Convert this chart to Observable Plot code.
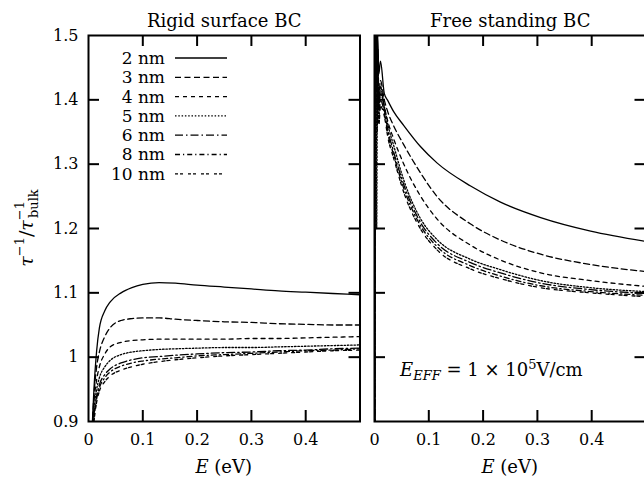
<!DOCTYPE html>
<html>
<head>
<meta charset="utf-8">
<script src="https://cdn.jsdelivr.net/npm/d3@7"></script>
<script src="https://cdn.jsdelivr.net/npm/@observablehq/plot@0.6"></script>
<style>
  html, body { margin: 0; padding: 0; background: #fff; }
  #wrap { position: relative; width: 644px; height: 483px; overflow: hidden; background: #fff; }
  #wrap svg { position: absolute; top: 0; }
</style>
</head>
<body>
<div id="wrap"></div>
<script>
// ---------- data ----------
const panelTitles = ["Rigid surface BC", "Free standing BC"];
const sizes = ["2 nm", "3 nm", "4 nm", "5 nm", "6 nm", "8 nm", "10 nm"];
const dashes = ["none", "6,3.5", "4,4", "1.5,1.8", "8,3,1.5,3", "5,3,1.2,3", "3,2,3,5"];
const xTickLabels = [0, 0.1, 0.2, 0.3, 0.4];
const xInnerTicks = [0.1, 0.2, 0.3, 0.4];
const yTicks = [0.9, 1, 1.1, 1.2, 1.3, 1.4, 1.5];
const yInnerTicks = [1, 1.1, 1.2, 1.3, 1.4];

// Rigid surface BC (left panel)
const rigidE = [0.005, 0.01, 0.015, 0.02, 0.03, 0.04, 0.06, 0.08, 0.1, 0.13, 0.16, 0.2, 0.25, 0.3, 0.35, 0.4, 0.45, 0.5];
const rigid2  = [0.86, 0.95, 1.01, 1.045, 1.072, 1.086, 1.1, 1.108, 1.113, 1.116, 1.115, 1.112, 1.109, 1.106, 1.103, 1.101, 1.099, 1.097];
const rigid3  = [0.86, 0.94, 0.985, 1.008, 1.032, 1.046, 1.057, 1.06, 1.061, 1.061, 1.059, 1.057, 1.055, 1.054, 1.052, 1.051, 1.05, 1.05];
const rigid4  = [0.86, 0.93, 0.965, 0.985, 1.005, 1.016, 1.023, 1.026, 1.027, 1.028, 1.028, 1.028, 1.028, 1.029, 1.029, 1.03, 1.031, 1.032];
const rigid5  = [0.86, 0.92, 0.95, 0.968, 0.985, 0.995, 1.004, 1.008, 1.01, 1.012, 1.013, 1.014, 1.015, 1.015, 1.016, 1.017, 1.018, 1.019];
const rigid6  = [0.86, 0.91, 0.94, 0.957, 0.973, 0.982, 0.991, 0.996, 0.999, 1.001, 1.003, 1.005, 1.007, 1.008, 1.01, 1.011, 1.013, 1.014];
const rigid8  = [0.86, 0.905, 0.935, 0.952, 0.968, 0.977, 0.986, 0.991, 0.994, 0.997, 0.999, 1.002, 1.004, 1.006, 1.008, 1.01, 1.011, 1.013];
const rigid10 = [0.86, 0.9, 0.93, 0.947, 0.962, 0.971, 0.98, 0.985, 0.989, 0.993, 0.996, 0.999, 1.002, 1.004, 1.006, 1.008, 1.01, 1.011];

// Free standing BC (right panel): noisy start near E = 0, then smooth decay
const freeE = [0.0005, 0.0015, 0.003, 0.004, 0.005, 0.006, 0.008, 0.011, 0.018, 0.025, 0.035, 0.054, 0.085, 0.115, 0.177, 0.232, 0.306, 0.398, 0.5];
const free2  = [0.85, 1.6, 1.46, 1.55, 1.42, 1.5, 1.44, 1.46, 1.41, 1.398, 1.382, 1.36, 1.327, 1.302, 1.266, 1.241, 1.217, 1.196, 1.18];
const free3  = [0.85, 1.58, 1.44, 1.52, 1.4, 1.48, 1.41, 1.43, 1.4, 1.38, 1.36, 1.33, 1.286, 1.25, 1.207, 1.182, 1.16, 1.144, 1.133];
const free4  = [0.85, 1.62, 1.48, 1.53, 1.38, 1.46, 1.4, 1.42, 1.39, 1.365, 1.34, 1.3, 1.25, 1.215, 1.174, 1.151, 1.131, 1.119, 1.11];
const free5  = [0.85, 1.57, 1.45, 1.2, 1.37, 1.47, 1.39, 1.41, 1.39, 1.36, 1.33, 1.275, 1.215, 1.183, 1.152, 1.136, 1.119, 1.108, 1.102];
const free6  = [0.85, 1.61, 1.43, 1.5, 1.39, 1.44, 1.38, 1.42, 1.385, 1.352, 1.32, 1.268, 1.209, 1.177, 1.147, 1.131, 1.115, 1.105, 1.099];
const free8  = [0.85, 1.59, 1.47, 1.49, 1.36, 1.45, 1.37, 1.4, 1.38, 1.346, 1.315, 1.262, 1.204, 1.172, 1.142, 1.126, 1.111, 1.102, 1.096];
const free10 = [0.85, 1.6, 1.42, 1.51, 1.35, 1.43, 1.36, 1.39, 1.375, 1.34, 1.31, 1.256, 1.199, 1.167, 1.137, 1.122, 1.108, 1.1, 1.094];

const rigidSeries = [rigid2, rigid3, rigid4, rigid5, rigid6, rigid8, rigid10];
const freeSeries = [free2, free3, free4, free5, free6, free8, free10];

const annotation = {E: 0.048, v: 0.97};

// ---------- layout ----------
const H = 483, mTop = 35, mBottom = 62;
const frameH = H - mTop - mBottom;
const panelW = 271.5;
const tick = 11;
const FONT = "'DejaVu Serif', serif";

function rows(E, series) {
  return series.map((vals, i) => E.map((e, j) => ({size: sizes[i], E: e, v: vals[j]})));
}

function panel({width, marginLeft, marginRight, data, title, showY}) {
  const marks = [];
  data.forEach((d, i) => {
    marks.push(Plot.line(d, {x: "E", y: "v", curve: "monotone-x", clip: true,
      stroke: "#000", strokeWidth: 1.3, strokeDasharray: dashes[i] === "none" ? null : dashes[i]}));
  });
  marks.push(Plot.frame({stroke: "#000", strokeWidth: 2}));
  marks.push(Plot.ruleX(xInnerTicks, {x: d => d, insetTop: frameH - tick, strokeWidth: 2}));
  marks.push(Plot.ruleX(xInnerTicks, {x: d => d, insetBottom: frameH - tick, strokeWidth: 2}));
  marks.push(Plot.ruleY(yInnerTicks, {y: d => d, insetRight: panelW - tick, strokeWidth: 2}));
  marks.push(Plot.ruleY(yInnerTicks, {y: d => d, insetLeft: panelW - tick, strokeWidth: 2}));
  marks.push(Plot.axisX(xTickLabels, {anchor: "bottom", tickSize: 0, tickPadding: 12, fontSize: 16, tickFormat: d => String(d), label: null}));
  if (showY) {
    marks.push(Plot.axisY(yTicks, {anchor: "left", tickSize: 0, tickPadding: 10, fontSize: 16, tickFormat: d => String(d), label: null}));
  } else {
    marks.push(Plot.axisY([], {anchor: "left", label: null}));
  }
  marks.push(Plot.text([title], {text: d => d, frameAnchor: "top", lineAnchor: "bottom", dy: -9, fontSize: 18}));
  return Plot.plot({
    width, height: H, marginLeft, marginRight, marginTop: mTop, marginBottom: mBottom,
    x: {domain: [0, 0.5], label: null},
    y: {domain: [0.9, 1.5], label: null},
    style: {fontFamily: FONT, fontSize: "16px", color: "#000", background: "transparent", overflow: "visible"},
    marks
  });
}

const left = panel({width: 367, marginLeft: 88, marginRight: 367 - 88 - panelW,
  data: rows(rigidE, rigidSeries), title: panelTitles[0], showY: true});
const right = panel({width: 280, marginLeft: 7, marginRight: 280 - 7 - panelW,
  data: rows(freeE, freeSeries), title: panelTitles[1], showY: false});

const wrap = document.getElementById("wrap");
left.style.left = "0px";
right.style.left = "367px";
wrap.appendChild(left);
wrap.appendChild(right);

// ---------- rich text overlays ----------
function xLabel(svg, plot) {
  const sx = plot.scale("x");
  const cx = (sx.apply(0) + sx.apply(0.5)) / 2;
  const t = d3.select(svg).append("text")
    .attr("x", cx).attr("y", 473).attr("text-anchor", "middle")
    .attr("font-family", FONT).attr("font-size", 18).attr("fill", "#000");
  t.append("tspan").attr("font-style", "italic").text("E");
  t.append("tspan").text(" (eV)");
}
xLabel(left, left);
xLabel(right, right);

// y label
{
  const sy = left.scale("y");
  const cy = (sy.apply(0.9) + sy.apply(1.5)) / 2;
  const t = d3.select(left).append("text")
    .attr("transform", `translate(33,${cy}) rotate(-90)`)
    .attr("text-anchor", "middle")
    .attr("font-family", FONT).attr("font-size", 19).attr("fill", "#000");
  t.append("tspan").attr("font-style", "italic").text("τ");
  t.append("tspan").attr("font-size", 13).attr("dy", -9).text("−1");
  t.append("tspan").attr("dy", 9).text("/");
  t.append("tspan").attr("font-style", "italic").text("τ");
  t.append("tspan").attr("font-size", 13).attr("dy", -9).text("−1");
  t.append("tspan").attr("font-size", 13).attr("dx", -17).attr("dy", 14).text("bulk");
}

// annotation on right panel
{
  const sx = right.scale("x"), sy = right.scale("y");
  const t = d3.select(right).append("text")
    .attr("x", sx.apply(annotation.E)).attr("y", sy.apply(annotation.v))
    .attr("text-anchor", "start")
    .attr("font-family", FONT).attr("font-size", 18).attr("fill", "#000");
  t.append("tspan").attr("font-style", "italic").text("E");
  t.append("tspan").attr("font-style", "italic").attr("font-size", 13).attr("dy", 4).text("EFF");
  t.append("tspan").attr("dy", -4).text(" = 1 × 10");
  t.append("tspan").attr("font-size", 13).attr("dy", -7).text("5");
  t.append("tspan").attr("dy", 7).text("V/cm");
}

// legend (left panel, upper left)
{
  const g = d3.select(left).append("g").attr("font-family", FONT).attr("font-size", 17);
  sizes.forEach((s, i) => {
    const y = 58 + i * 19.3;
    g.append("text").attr("x", 165).attr("y", y).attr("dy", "0.35em")
      .attr("text-anchor", "end").attr("fill", "#000").text(s);
    g.append("line").attr("x1", 175).attr("x2", 227).attr("y1", y).attr("y2", y)
      .attr("stroke", "#000").attr("stroke-width", 1.3)
      .attr("stroke-dasharray", dashes[i] === "none" ? null : dashes[i]);
  });
}
</script>
</body>
</html>
